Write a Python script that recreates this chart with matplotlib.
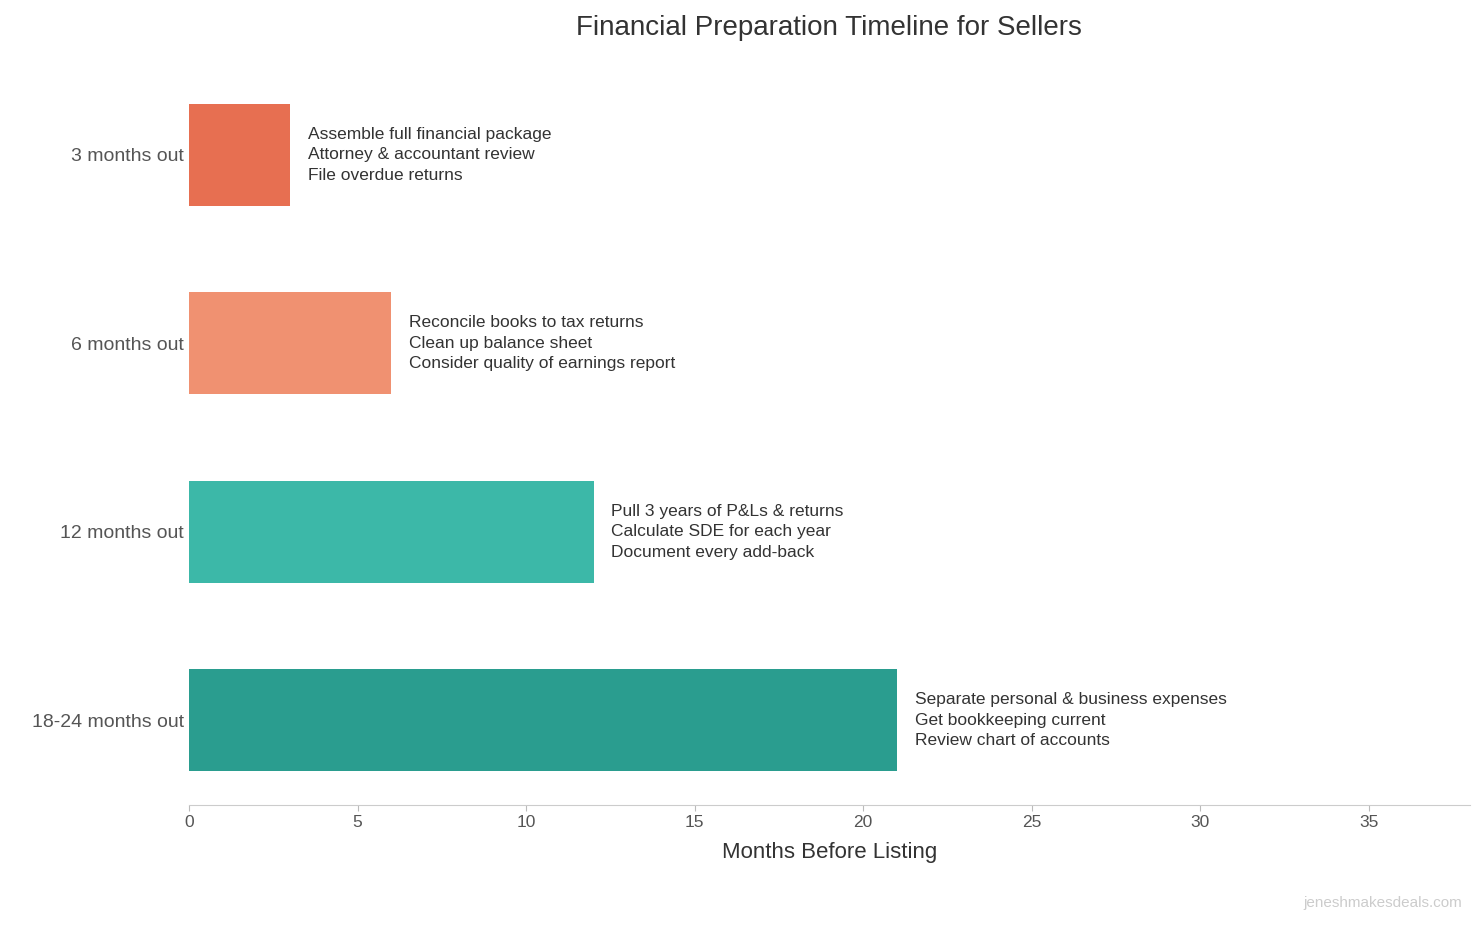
import matplotlib
matplotlib.use("Agg")
import matplotlib.pyplot as plt

categories = ["18-24 months out", "12 months out", "6 months out", "3 months out"]
months = [21, 12, 6, 3]
tasks = [
    "Separate personal & business expenses\nGet bookkeeping current\nReview chart of accounts",
    "Pull 3 years of P&Ls & returns\nCalculate SDE for each year\nDocument every add-back",
    "Reconcile books to tax returns\nClean up balance sheet\nConsider quality of earnings report",
    "Assemble full financial package\nAttorney & accountant review\nFile overdue returns",
]
colors = ["#2A9D8F", "#3CB8A8", "#F09171", "#E76F51"]

plt.rcParams['font.family'] = ['Liberation Sans', 'DejaVu Sans']
fig = plt.figure(figsize=(14.84, 9.26), dpi=100)
ax = fig.add_axes([189/1484, 1-805/926, (1470-189)/1484, (805-70)/926])
y = list(range(len(categories)))
ax.barh(y, months, height=0.54, color=colors)
for yi, m, t in zip(y, months, tasks):
    ax.text(m + 0.53, yi, t, va='center', ha='left', fontsize=12.5, color='#333333', linespacing=1.45)
ax.set_yticks(y)
ax.set_yticklabels(categories, fontsize=14, color='#555555')
ax.set_xlim(0, 38)
ax.set_ylim(-0.45, 3.45)
ax.set_xticks(range(0, 36, 5))
ax.tick_params(axis='x', labelsize=12.5, colors='#555555', length=4, color='#bbbbbb')
ax.tick_params(axis='y', length=0)
for s in ['top', 'right', 'left']:
    ax.spines[s].set_visible(False)
ax.spines['bottom'].set_color('#cccccc')
ax.set_xlabel("Months Before Listing", fontsize=16, color='#333333', labelpad=8)
fig.text(829/1484, 1-28/926, "Financial Preparation Timeline for Sellers", ha='center', va='center', fontsize=20, color='#333333')
fig.text(1462/1484, 1-903/926, "jeneshmakesdeals.com", ha='right', va='center', fontsize=11, color='#cccccc')
fig.savefig("out.png", dpi=100)
